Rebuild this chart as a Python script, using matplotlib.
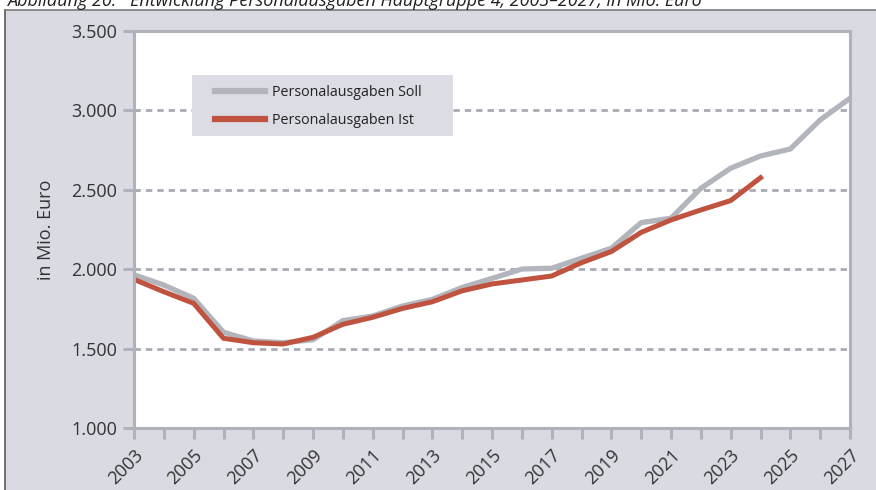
import matplotlib
matplotlib.use("Agg")
import matplotlib.pyplot as plt
from matplotlib.patches import Rectangle
from matplotlib.lines import Line2D

# Daten (in Mio. Euro)
JAHRE: list[int] = list(range(2003, 2028))
SOLL: list[float] = [1965, 1900, 1817, 1603, 1548, 1537, 1556, 1676, 1705, 1768,
                     1810, 1885, 1942, 2001, 2006, 2069, 2132, 2293, 2321, 2509,
                     2636, 2713, 2757, 2940, 3076]
IST_JAHRE: list[int] = list(range(2003, 2025))
IST: list[float] = [1936, 1858, 1785, 1565, 1537, 1529, 1571, 1653, 1697, 1753,
                    1795, 1864, 1907, 1932, 1957, 2041, 2111, 2232, 2310, 2373,
                    2432, 2576]
Y_TICKS: list[int] = [1000, 1500, 2000, 2500, 3000, 3500]

HINTERGRUND = "#d9dae2"
GRAU = "#b3b5bd"
ROT = "#c0533f"
ACHSE = "#b0b2ba"
TEXT = "#333333"

plt.rcParams['font.family'] = ['Open Sans', 'DejaVu Sans']

fig = plt.figure(figsize=(8.76, 4.90), dpi=100)
fig.patch.set_facecolor("white")

# Panel-Hintergrund mit dunklem Rand links/oben
W, H = 876, 490
fig.add_artist(Rectangle((5 / W, 0), 1 - 5 / W, 1 - 10 / H, transform=fig.transFigure,
                         facecolor=HINTERGRUND, edgecolor="none", zorder=0))
fig.add_artist(Line2D([5 / W, 5 / W], [0, 1 - 10 / H], transform=fig.transFigure,
                      color="#5a5a5a", lw=1.2))
fig.add_artist(Line2D([5 / W, 1], [1 - 10 / H, 1 - 10 / H], transform=fig.transFigure,
                      color="#7a7a7a", lw=1.2))

# Titel (oben abgeschnitten wie im Original)
fig.text(7 / W, 1 - 5.5 / H,
         "Abbildung 20:   Entwicklung Personalausgaben Hauptgruppe 4, 2003–2027, in Mio. Euro",
         fontsize=13, style="italic", color="#222222", va="baseline", ha="left")

ax = fig.add_axes([134 / W, 62 / H, 716 / W, 397 / H])
ax.set_facecolor("white")

ax.plot(JAHRE, SOLL, color=GRAU, lw=3.8, solid_joinstyle="miter", zorder=3,
        label="Personalausgaben Soll")
ax.plot(IST_JAHRE, IST, color=ROT, lw=3.6, solid_joinstyle="miter", zorder=4,
        label="Personalausgaben Ist")

ax.set_xlim(2003, 2027)
ax.set_ylim(1000, 3500)
ax.set_yticks(Y_TICKS)
ax.set_yticklabels([f"{v:,}".replace(",", ".") for v in Y_TICKS])
ax.set_xticks(JAHRE)
ax.set_xticklabels([str(j) if (j - 2003) % 2 == 0 else "" for j in JAHRE],
                   rotation=45, ha="right", rotation_mode="anchor")

for y in Y_TICKS[:-1]:
    ax.axhline(y, color="#a9abb4", lw=2.0, dashes=(2.3, 1.8), zorder=1)

for s in ax.spines.values():
    s.set_color(ACHSE)
    s.set_linewidth(2.2)
    s.set_zorder(5)

ax.tick_params(axis="both", colors=ACHSE, width=2.2, length=8, labelsize=13,
               labelcolor=TEXT)
ax.tick_params(axis="y", pad=4)
ax.tick_params(axis="x", pad=5)

ax.set_ylabel("in Mio. Euro", fontsize=13, color=TEXT, labelpad=12)

# Legende
ax.add_patch(Rectangle(((192 - 134) / 716, (428 - 136) / 397), 261 / 716, 61 / 397,
                       transform=ax.transAxes, facecolor="#dcdde4", edgecolor="none",
                       zorder=6))
leg = ax.legend(loc="upper left", bbox_to_anchor=((215 - 134) / 716, (428 - 85) / 397),
                frameon=False, fontsize=10.3, handlelength=3.5, handletextpad=0.5,
                labelspacing=0.9, borderpad=0, borderaxespad=0, labelcolor="#222222")
leg.set_zorder(7)
for line in leg.get_lines():
    line.set_linewidth(4.5)

fig.savefig("out.png", dpi=100, facecolor=fig.get_facecolor())
